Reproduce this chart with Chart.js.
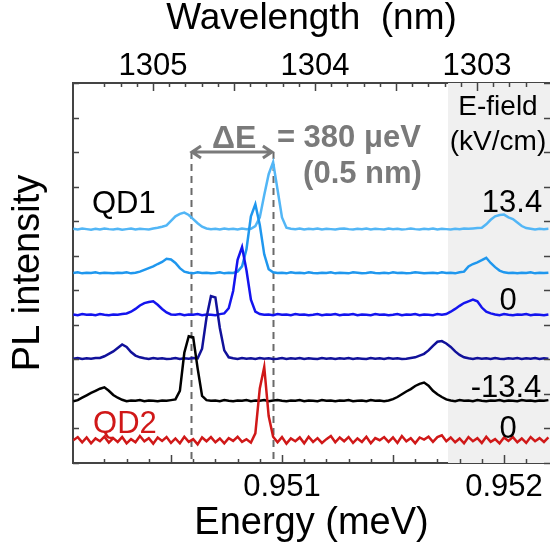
<!DOCTYPE html>
<html>
<head>
<meta charset="utf-8">
<script src="https://cdn.jsdelivr.net/npm/chart.js@4.4.1/dist/chart.umd.min.js"></script>
<style>
html, body { margin: 0; padding: 0; background: #fff; }
canvas { display: block; }
</style>
</head>
<body>
<canvas id="cns" width="550" height="554"></canvas>
<script>
// energy grid (meV), shared by all spectra
let energy = [
  0.95006,0.95008,0.95010,0.95012,0.95014,0.95016,0.95018,0.95020,0.95022,0.95024,
  0.95026,0.95028,0.95030,0.95032,0.95034,0.95036,0.95038,0.95040,0.95042,0.95044,
  0.95046,0.95048,0.95050,0.95052,0.95054,0.95056,0.95058,0.95060,0.95062,0.95064,
  0.95066,0.95068,0.95070,0.95072,0.95074,0.95076,0.95078,0.95080,0.95082,0.95084,
  0.95086,0.95088,0.95090,0.95092,0.95094,0.95096,0.95098,0.95100,0.95102,0.95104,
  0.95106,0.95108,0.95110,0.95112,0.95114,0.95116,0.95118,0.95120,0.95122,0.95124,
  0.95126,0.95128,0.95130,0.95132,0.95134,0.95136,0.95138,0.95140,0.95142,0.95144,
  0.95146,0.95148,0.95150,0.95152,0.95154,0.95156,0.95158,0.95160,0.95162,0.95164,
  0.95166,0.95168,0.95170,0.95172,0.95174,0.95176,0.95178,0.95180,0.95182,0.95184,
  0.95186,0.95188,0.95190,0.95192,0.95194,0.95196,0.95198,0.95200,0.95202,0.95204,
  0.95206,0.95208,0.95210,0.95212,0.95214,0.95216,0.95218,0.95220
];

// QD1 spectra, top to bottom (E-field 13.4 ... -13.4 kV/cm), intensity above own baseline
let qd1_a = [
  0.02,0.00,0.03,0.01,-0.01,0.02,0.00,0.03,0.01,0.00,
  0.02,-0.01,0.01,0.03,0.00,0.02,0.01,0.00,0.03,0.05,
  0.08,0.12,0.25,0.38,0.45,0.49,0.42,0.30,0.18,0.08,
  0.03,0.01,0.02,0.00,0.03,0.01,0.02,0.00,0.03,0.01,
  0.02,0.10,0.35,1.00,1.60,1.95,1.15,0.35,0.05,0.02,
  0.01,0.03,0.00,0.02,0.01,0.03,0.00,0.02,0.01,0.00,
  0.02,0.03,0.01,0.00,0.02,0.01,0.03,0.00,0.02,0.01,
  0.00,0.03,0.01,0.02,0.00,0.01,0.03,0.01,0.00,0.02,
  0.01,0.03,0.00,0.02,0.01,0.00,0.02,0.01,0.03,0.02,
  0.03,0.04,0.05,0.15,0.28,0.38,0.42,0.43,0.35,0.30,
  0.20,0.10,0.04,0.02,0.00,0.02,0.01,0.02
];
let qd1_b = [
  0.01,0.03,0.00,0.02,0.01,0.03,0.00,0.02,0.01,0.00,
  0.02,0.01,0.03,0.00,0.02,0.05,0.10,0.15,0.20,0.27,
  0.33,0.42,0.40,0.30,0.15,0.05,0.02,0.00,0.03,0.01,
  0.02,0.00,0.01,0.03,0.00,0.02,0.01,0.05,0.20,0.70,
  1.65,2.00,1.40,0.55,0.12,0.03,0.01,0.02,0.00,0.03,
  0.01,0.02,0.00,0.03,0.01,0.00,0.02,0.01,0.03,0.00,
  0.02,0.01,0.00,0.03,0.02,0.00,0.01,0.03,0.01,0.00,
  0.02,0.00,0.03,0.01,0.02,0.00,0.01,0.03,0.02,0.00,
  0.01,0.02,0.00,0.03,0.01,0.02,0.00,0.03,0.05,0.20,
  0.27,0.32,0.38,0.45,0.30,0.18,0.08,0.03,0.01,0.02,
  0.00,0.02,0.01,0.03,0.00,0.02,0.01,0.02
];
let qd1_c = [
  0.02,0.00,0.03,0.01,0.02,0.00,0.03,0.01,0.00,0.02,
  0.01,0.03,0.05,0.10,0.18,0.28,0.35,0.38,0.40,0.30,
  0.18,0.08,0.02,0.01,0.03,0.00,0.02,0.01,0.03,0.00,
  0.02,0.01,0.00,0.03,0.05,0.20,0.70,1.60,1.97,1.30,
  0.45,0.10,0.03,0.01,0.02,0.00,0.03,0.01,0.02,0.00,
  0.03,0.01,0.02,0.00,0.01,0.03,0.00,0.02,0.01,0.03,
  0.00,0.02,0.01,0.03,0.00,0.02,0.01,0.00,0.03,0.01,
  0.02,0.00,0.01,0.03,0.00,0.02,0.01,0.03,0.00,0.02,
  0.01,0.00,0.03,0.01,0.03,0.10,0.18,0.27,0.35,0.40,
  0.45,0.40,0.22,0.10,0.05,0.02,0.00,0.03,0.01,0.00,
  0.02,0.01,0.03,0.00,0.02,0.01,0.00,0.02
];
let qd1_d = [
  0.01,0.03,0.00,0.02,0.01,0.03,0.03,0.08,0.15,0.22,
  0.32,0.42,0.35,0.20,0.10,0.05,0.02,0.00,0.03,0.01,
  0.02,0.00,0.01,0.03,0.00,0.02,0.01,0.03,0.02,0.30,
  1.20,1.82,1.78,0.90,0.25,0.05,0.02,0.00,0.03,0.01,
  0.02,0.00,0.03,0.01,0.02,0.00,0.01,0.03,0.00,0.02,
  0.01,0.03,0.00,0.02,0.01,0.00,0.03,0.01,0.02,0.00,
  0.02,0.01,0.03,0.00,0.02,0.01,0.00,0.03,0.01,0.02,
  0.00,0.03,0.01,0.02,0.00,0.01,0.03,0.05,0.10,0.15,
  0.25,0.38,0.50,0.52,0.45,0.35,0.22,0.12,0.05,0.02,
  0.00,0.03,0.01,0.02,0.00,0.03,0.01,0.00,0.02,0.01,
  0.03,0.00,0.02,0.01,0.03,0.00,0.02,0.01
];
let qd1_e = [
  0.00,0.03,0.10,0.17,0.24,0.30,0.36,0.40,0.30,0.18,
  0.10,0.04,0.00,0.02,0.01,0.03,0.00,0.02,0.01,0.00,
  0.02,0.01,0.03,0.05,0.30,1.40,1.88,1.85,0.95,0.15,
  0.03,0.01,0.02,0.00,0.03,0.01,0.00,0.02,0.01,0.03,
  0.00,0.02,0.01,0.03,0.00,0.02,0.03,0.01,0.00,0.02,
  0.01,0.03,0.00,0.02,0.01,0.00,0.03,0.01,0.02,0.00,
  0.02,0.01,0.03,0.00,0.01,0.02,0.00,0.03,0.01,0.02,
  0.00,0.02,0.06,0.12,0.20,0.28,0.35,0.44,0.50,0.54,
  0.45,0.30,0.20,0.12,0.05,0.02,0.00,0.03,0.01,0.02,
  0.00,0.03,0.01,0.00,0.02,0.01,0.03,0.00,0.02,0.01,
  0.00,0.03,0.01,0.02,0.00,0.02,0.01,0.03
];
// QD2 spectrum at 0 kV/cm
let qd2_0 = [
  0.00,0.09,-0.06,0.08,-0.09,0.05,-0.03,0.10,-0.07,0.06,
  -0.05,0.09,-0.09,0.03,-0.06,0.12,-0.03,0.06,-0.10,0.08,
  -0.02,0.09,-0.08,0.05,-0.09,0.10,-0.05,0.03,-0.12,0.08,
  -0.03,0.09,-0.06,0.05,-0.09,0.06,-0.02,0.10,-0.05,0.03,
  -0.07,0.20,1.50,2.12,0.70,0.10,-0.06,0.09,-0.10,0.05,
  -0.03,0.08,-0.09,0.10,-0.05,0.06,-0.08,0.03,0.12,-0.06,
  0.08,-0.03,0.09,-0.08,0.05,-0.05,0.10,-0.09,0.06,0.00,
  0.09,-0.05,0.08,-0.08,0.12,-0.03,0.06,-0.09,0.08,0.02,
  0.10,-0.05,0.09,0.14,-0.03,0.08,-0.06,0.05,-0.09,0.09,
  -0.03,0.06,-0.08,0.10,-0.05,0.03,-0.09,0.08,-0.02,0.09,
  -0.06,0.05,-0.08,0.09,-0.03,0.06,-0.05,0.08
];

let spectra = [qd1_a, qd1_b, qd1_c, qd1_d, qd1_e, qd2_0];
let offsets = [6.76, 5.49, 4.28, 3.01, 1.79, 0.66];
let lineColors = ['#52b6f6', '#1f97ee', '#1414ee', '#11119a', '#000000', '#d01818'];
let fieldLabels = ['13.4', '', '0', '', '-13.4', '0'];

// axis ranges and tick labels
let energyRange = [0.9500586, 0.9522072];
let wavelengthRange = [1302.549, 1305.494];
let energyTicks = [0.951, 0.952];
let wavelengthTicks = [1305, 1304, 1303];
let shadeFrom = 0.951748;
let dashAt = [0.95059, 0.950959];

let FONT = "'Liberation Sans', Arial, sans-serif";

let datasets = spectra.map(function (s, k) {
    return {
        data: s.map(function (v, i) { return {x: energy[i], y: v + offsets[k]}; }),
        borderColor: lineColors[k],
        borderWidth: 2.5,
        pointRadius: 0,
        tension: 0,
        fill: false
    };
});
datasets.reverse(); // draw QD2 first, top trace last

function near(v, list, tol) {
    for (let j = 0; j < list.length; j++) {
        if (Math.abs(v - list[j]) < tol) return list[j];
    }
    return null;
}

// fixed box sizes so the plot frame lands where the figure has it
function fixBox(size) {
    return function (s) {
        if (s.isHorizontal()) {
            s.height = size;
            s.paddingLeft = 0;
            s.paddingRight = 0;
        } else {
            s.width = size;
            s.paddingTop = 0;
            s.paddingBottom = 0;
        }
    };
}

let decor = {
    id: 'decor',
    beforeDatasetsDraw(chart) {
        let ctx = chart.ctx, a = chart.chartArea, x = chart.scales.x, y = chart.scales.y;
        ctx.save();
        // E-field column
        let gx = x.getPixelForValue(shadeFrom);
        ctx.fillStyle = '#f0f0f0';
        ctx.fillRect(gx, a.top, a.right - gx, a.bottom - a.top);
        // dashed markers
        ctx.strokeStyle = '#6a6a6a';
        ctx.lineWidth = 2;
        ctx.setLineDash([7, 5]);
        let yTop = y.getPixelForValue(9.0);
        dashAt.forEach(function (e) {
            let px = Math.round(x.getPixelForValue(e)) + 0.5;
            ctx.beginPath();
            ctx.moveTo(px, yTop);
            ctx.lineTo(px, a.bottom);
            ctx.stroke();
        });
        ctx.restore();
    },
    afterDatasetsDraw(chart) {
        let ctx = chart.ctx, a = chart.chartArea;
        let x = chart.scales.x, x2 = chart.scales.x2, y = chart.scales.y;
        ctx.save();

        // inward tick marks
        ctx.strokeStyle = '#444';
        ctx.lineWidth = 1.5;
        ctx.setLineDash([]);
        ctx.beginPath();
        x.ticks.forEach(function (t) {
            let n = Math.round(t.value * 10000);
            if (Math.abs(t.value * 10000 - n) > 1e-4) return;
            let len = (n % 5 === 0) ? 8 : 4;
            let px = Math.round(x.getPixelForValue(t.value)) + 0.5;
            ctx.moveTo(px, a.bottom);
            ctx.lineTo(px, a.bottom - len);
        });
        x2.ticks.forEach(function (t) {
            let n = Math.round(t.value * 10);
            if (Math.abs(t.value * 10 - n) > 1e-4) return;
            let len = (n % 5 === 0) ? 8 : 4;
            let px = Math.round(x2.getPixelForValue(t.value)) + 0.5;
            ctx.moveTo(px, a.top);
            ctx.lineTo(px, a.top + len);
        });
        y.ticks.forEach(function (t) {
            let py = Math.round(y.getPixelForValue(t.value)) + 0.5;
            ctx.moveTo(a.left, py);
            ctx.lineTo(a.left + 6, py);
            ctx.moveTo(a.right, py);
            ctx.lineTo(a.right - 6, py);
        });
        ctx.stroke();

        // delta-E arrow
        let ay = y.getPixelForValue(9.0);
        let x1 = x.getPixelForValue(dashAt[0]) + 1, xr = x.getPixelForValue(dashAt[1]) - 1;
        ctx.strokeStyle = '#7a7a7a';
        ctx.lineWidth = 3;
        ctx.beginPath();
        ctx.moveTo(x1, ay);
        ctx.lineTo(xr, ay);
        ctx.moveTo(x1 + 9, ay - 6);
        ctx.lineTo(x1, ay);
        ctx.lineTo(x1 + 9, ay + 6);
        ctx.moveTo(xr - 9, ay - 6);
        ctx.lineTo(xr, ay);
        ctx.lineTo(xr - 9, ay + 6);
        ctx.stroke();

        function text(str, e, v, align, font, color) {
            ctx.font = font;
            ctx.fillStyle = color;
            ctx.textAlign = align;
            ctx.textBaseline = 'alphabetic';
            ctx.fillText(str, x.getPixelForValue(e), y.getPixelForValue(v));
        }
        text('ΔE', 0.950685, 9.12, 'left', 'bold 32px ' + FONT, '#7a7a7a');
        text('= 380 μeV', 0.950977, 9.15, 'left', 'bold 31px ' + FONT, '#7a7a7a');
        text('(0.5 nm)', 0.951095, 8.11, 'left', 'bold 31px ' + FONT, '#7a7a7a');
        text('QD1', 0.950144, 7.24, 'left', '31px ' + FONT, '#000');
        text('QD2', 0.950149, 0.87, 'left', '31px ' + FONT, lineColors[5]);
        text('E-field', 0.951973, 10.07, 'center', '28px ' + FONT, '#000');
        text('(kV/cm)', 0.951973, 9.06, 'center', '28px ' + FONT, '#000');
        let fieldPos = [[0.952036, 7.27], null, [0.952018, 4.43], null, [0.952009, 1.91], [0.952018, 0.72]];
        fieldLabels.forEach(function (lab, k) {
            if (!lab) return;
            text(lab, fieldPos[k][0], fieldPos[k][1], 'center', '31px ' + FONT, '#000');
        });
        ctx.restore();
    }
};

new Chart(document.getElementById('cns'), {
    type: 'line',
    data: {datasets: datasets},
    options: {
        responsive: false,
        animation: false,
        devicePixelRatio: 1,
        layout: {padding: 0},
        plugins: {legend: {display: false}, tooltip: {enabled: false}},
        scales: {
            x: {
                type: 'linear', position: 'bottom',
                min: energyRange[0], max: energyRange[1],
                afterFit: fixBox(91),
                grid: {display: false, drawTicks: false},
                border: {display: true, color: '#444', width: 2},
                ticks: {
                    stepSize: 0.0001, autoSkip: false, maxRotation: 0, padding: 6,
                    color: '#000', font: {family: FONT, size: 31},
                    callback: function (v) {
                        let m = near(v, energyTicks, 1e-7);
                        return m === null ? '' : m.toFixed(3);
                    }
                },
                title: {display: true, text: 'Energy (meV)', color: '#000',
                    font: {family: FONT, size: 38, lineHeight: 1}, padding: {top: 0, bottom: 11}}
            },
            x2: {
                type: 'linear', position: 'top', reverse: true,
                min: wavelengthRange[0], max: wavelengthRange[1],
                afterFit: fixBox(83),
                grid: {display: false, drawTicks: false},
                border: {display: true, color: '#444', width: 2},
                ticks: {
                    stepSize: 0.1, autoSkip: false, maxRotation: 0, padding: -2,
                    color: '#000', font: {family: FONT, size: 31},
                    callback: function (v) {
                        let m = near(v, wavelengthTicks, 1e-4);
                        return m === null ? '' : String(m);
                    }
                },
                title: {display: true, text: 'Wavelength  (nm)', color: '#000',
                    font: {family: FONT, size: 37, lineHeight: 1}, padding: {top: 0, bottom: 0}}
            },
            y: {
                type: 'linear', position: 'left', min: 0, max: 11,
                afterFit: fixBox(73),
                grid: {display: false, drawTicks: false},
                border: {display: true, color: '#444', width: 2},
                ticks: {display: false, stepSize: 1},
                title: {display: true, text: 'PL intensity', color: '#000',
                    font: {family: FONT, size: 38, lineHeight: 1}, padding: {top: 10, bottom: 0}}
            }
        }
    },
    plugins: [decor]
});
</script>
</body>
</html>
